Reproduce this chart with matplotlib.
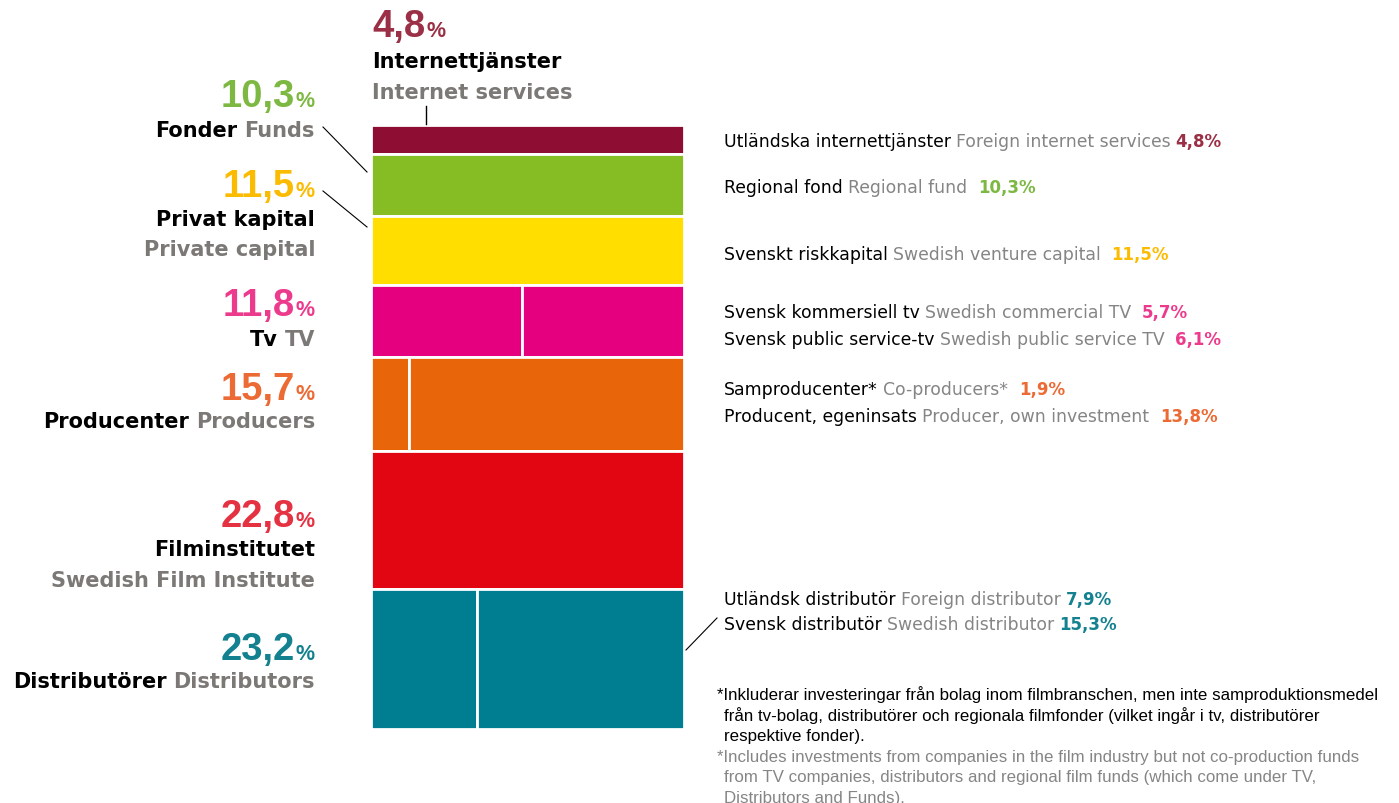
import matplotlib.pyplot as plt

# main groups (Swedish / English) and their total share in percent
groups_sv = ["Internettjänster", "Fonder", "Privat kapital", "Tv",
             "Producenter", "Filminstitutet", "Distributörer"]
groups_en = ["Internet services", "Funds", "Private capital", "TV",
             "Producers", "Swedish Film Institute", "Distributors"]
shares = [4.8, 10.3, 11.5, 11.8, 15.7, 22.8, 23.2]

# sub-sources inside each group
sub_shares = [[4.8], [10.3], [11.5], [5.7, 6.1], [1.9, 13.8], [22.8], [7.9, 15.3]]
sub_sv = [["Utländska internettjänster"], ["Regional fond"], ["Svenskt riskkapital"],
          ["Svensk kommersiell tv", "Svensk public service-tv"],
          ["Samproducenter*", "Producent, egeninsats"], [],
          ["Utländsk distributör", "Svensk distributör"]]
sub_en = [["Foreign internet services"], ["Regional fund"], ["Swedish venture capital"],
          ["Swedish commercial TV", "Swedish public service TV"],
          ["Co-producers*", "Producer, own investment"], [],
          ["Foreign distributor", "Swedish distributor"]]

bar_colors = ["#8E0D32", "#86BC24", "#FFDE00", "#E4007F", "#E8650A", "#E20613", "#007E91"]
text_colors = ["#9A2F45", "#7DB843", "#FBBB00", "#EC3A8D", "#EC6A33", "#E53243", "#13818F"]
GRAY = "#7B7876"
LGRAY = "#858585"
NUMFONT = "Liberation Sans"
LABFONT = "DejaVu Sans"

note_sv = ["*Inkluderar investeringar från bolag inom filmbranschen, men inte samproduktionsmedel",
           "från tv-bolag, distributörer och regionala filmfonder (vilket ingår i tv, distributörer",
           "respektive fonder)."]
note_en = ["*Includes investments from companies in the film industry but not co-production funds",
           "from TV companies, distributors and regional film funds (which come under TV,",
           "Distributors and Funds)."]


def fmt(v):
    return f"{v:.1f}".replace(".", ",")


W, H = 1399, 804
fig = plt.figure(figsize=(W / 100, H / 100), dpi=100)

# stacked column
bx0, bx1, by0, by1 = 370.6, 684.4, 125.6, 730.4
axb = fig.add_axes([bx0 / W, 1 - by1 / H, (bx1 - bx0) / W, (by1 - by0) / H])
total = sum(shares)
bottom = 0
for i, parts in enumerate(sub_shares):
    left = 0
    for p in parts:
        w = p / shares[i]
        axb.bar(left, shares[i], width=w, bottom=bottom, align="edge",
                color=bar_colors[i], edgecolor="white", linewidth=2)
        left += w
    bottom += shares[i]
axb.set_xlim(0, 1)
axb.set_ylim(total, 0)
axb.axis("off")

# overlay axes in pixel coordinates for the labels
ax = fig.add_axes([0, 0, 1, 1])
ax.set_xlim(0, W)
ax.set_ylim(H, 0)
ax.axis("off")
ax.patch.set_alpha(0)
r = fig.canvas.get_renderer()


def seq(x, y, parts, ha="left"):
    # parts: (text, color, size, weight, gap_before, font)
    if ha == "left":
        for txt, c, s, wt, gap, f in parts:
            x += gap
            t = ax.text(x, y, txt, color=c, fontsize=s, fontweight=wt,
                        family=f, ha="left", va="baseline")
            x += t.get_window_extent(r).width
    else:
        for txt, c, s, wt, gap, f in reversed(parts):
            t = ax.text(x, y, txt, color=c, fontsize=s, fontweight=wt,
                        family=f, ha="right", va="baseline")
            x -= t.get_window_extent(r).width + gap


NUM, PCT, LAB = 27.5, 15.5, 15

# internet services label above the column
seq(372, 37, [(fmt(shares[0]), text_colors[0], NUM, "bold", 0, NUMFONT),
              ("%", text_colors[0], PCT, "bold", 1, NUMFONT)])
ax.text(372, 68, groups_sv[0], fontsize=LAB, fontweight="bold", family=LABFONT, color="black")
ax.text(372, 99, groups_en[0], fontsize=LAB, fontweight="bold", family=LABFONT, color=GRAY)
ax.plot([426, 426], [107, 125], color="black", lw=1)

# left labels: number baseline, then either inline or stacked name lines
left_layout = [None, (107, [137]), (197, [226, 256]), (316, [346]),
               (400, [428]), (527, [556, 587]), (660, [688])]
XR = 315
for i in range(1, len(shares)):
    yn, lines = left_layout[i]
    seq(XR, yn, [(fmt(shares[i]), text_colors[i], NUM, "bold", 0, NUMFONT),
                 ("%", text_colors[i], PCT, "bold", 1, NUMFONT)], ha="right")
    if len(lines) == 1:
        seq(XR, lines[0], [(groups_sv[i], "black", LAB, "bold", 0, LABFONT),
                           (groups_en[i], GRAY, LAB, "bold", 7, LABFONT)], ha="right")
    else:
        ax.text(XR, lines[0], groups_sv[i], fontsize=LAB, fontweight="bold",
                family=LABFONT, color="black", ha="right", va="baseline")
        ax.text(XR, lines[1], groups_en[i], fontsize=LAB, fontweight="bold",
                family=LABFONT, color=GRAY, ha="right", va="baseline")

ax.plot([323, 367], [128, 173], color="black", lw=0.8)
ax.plot([323, 367], [192, 228], color="black", lw=0.8)
ax.plot([686, 717], [651, 619], color="black", lw=0.8)

# right labels
right_y = [[147], [193], [260], [318, 345], [395, 422], [], [605, 630]]
pct_gap = [[5], [11], [11], [11, 11], [11, 11], [], [5, 5]]
RS = 12.4
for i in range(len(shares)):
    for j, y in enumerate(right_y[i]):
        seq(724, y, [(sub_sv[i][j], "black", RS, "normal", 0, LABFONT),
                     (sub_en[i][j], LGRAY, RS, "normal", 5, LABFONT),
                     (fmt(sub_shares[i][j]) + "%", text_colors[i], RS - 0.4, "bold",
                      pct_gap[i][j], LABFONT)])

# footnote
for k, line in enumerate(note_sv + note_en):
    x = 717 if k in (0, 3) else 724
    ax.text(x, 700 + k * 20.6, line, fontsize=12.2, family=NUMFONT,
            color="black" if k < 3 else LGRAY, va="baseline")

fig.savefig("out.png", dpi=100)
